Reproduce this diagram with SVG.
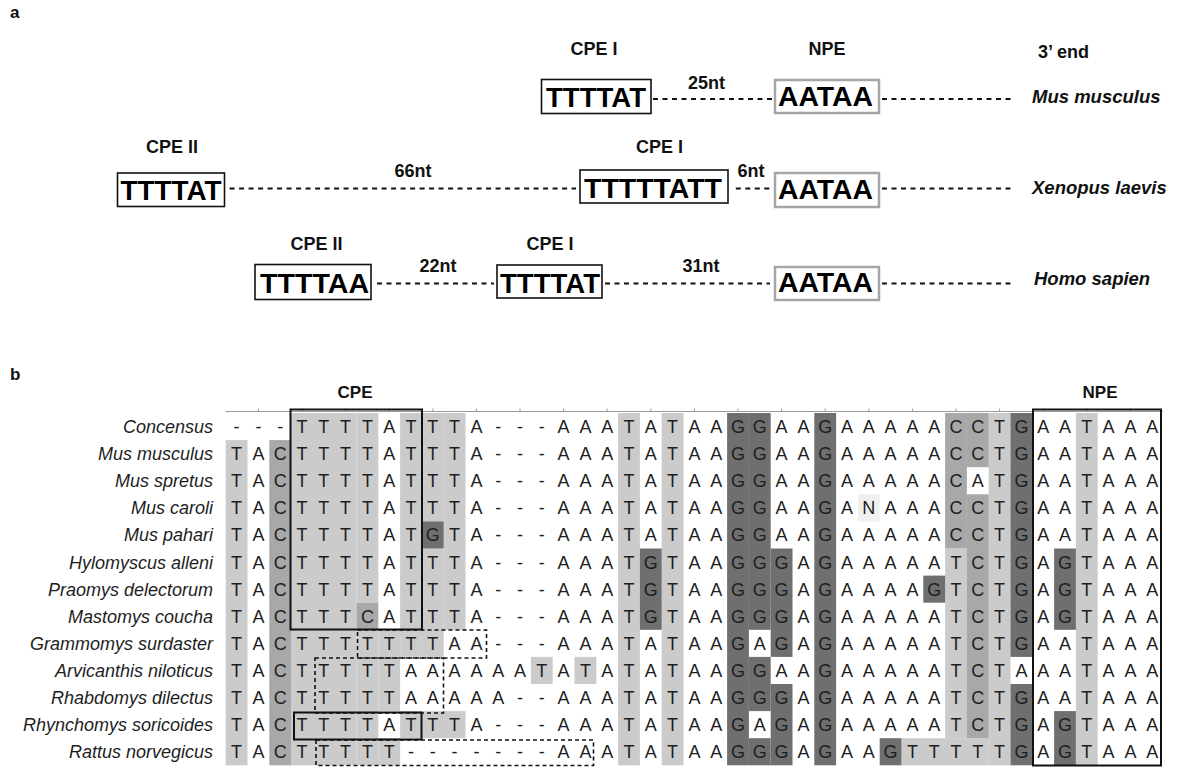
<svg xmlns="http://www.w3.org/2000/svg" width="1183" height="768" viewBox="0 0 1183 768">
<style>
.pl{font:bold 17px 'Liberation Sans',Arial,sans-serif;fill:#111}
.lbl{font:bold 18px 'Liberation Sans',Arial,sans-serif;fill:#111;text-anchor:middle}
.seq{font:bold 28px 'Liberation Sans',Arial,sans-serif;fill:#000;text-anchor:middle}
.sp{font:italic bold 18.5px 'Liberation Sans',Arial,sans-serif;fill:#111}
.box{fill:#fff;stroke:#111;stroke-width:1.6}
.npe{fill:#fff;stroke:#a6a6a6;stroke-width:2.5}
.dash{fill:none;stroke:#111;stroke-width:2.2;stroke-dasharray:5 4.5}
.al{font:18px 'Liberation Sans',Arial,sans-serif;fill:#1e1e1e;text-anchor:middle}
.name{font:italic 18px 'Liberation Sans',Arial,sans-serif;fill:#1e1e1e;text-anchor:end}
.t{fill:#cbcbcb}.c{fill:#a8a8a8}.g{fill:#6f6f6f}.n{fill:#f0f0f0}
.sbox{fill:none;stroke:#111;stroke-width:2}
.dbox{fill:none;stroke:#111;stroke-width:1.6;stroke-dasharray:4 3}
</style>
<rect width="1183" height="768" fill="#fff"/>

<!-- Panel a -->
<text class="pl" x="10" y="18">a</text>
<g id="a-headers">
<text class="lbl" x="594" y="55">CPE I</text>
<text class="lbl" x="827" y="55">NPE</text>
<text class="lbl" x="1038" y="58" style="text-anchor:start">3’ end</text>
</g>

<g id="a-connectors">
<path class="dash" d="M653 99H774M882 99H1011"/>
<path class="dash" d="M229.6 188.5H576M735.8 188.5H770M882 188.5H1011"/>
<path class="dash" d="M377 283.5H494M605 283.5H770M882 283.5H1011"/>
<text class="lbl" x="706.5" y="89">25nt</text>
<text class="lbl" x="413" y="176.5">66nt</text>
<text class="lbl" x="751" y="176.5">6nt</text>
<text class="lbl" x="438" y="272">22nt</text>
<text class="lbl" x="701" y="272">31nt</text>
</g>

<g id="mus-cpe1">
<rect class="box" x="541.5" y="79.5" width="109.5" height="34"/>
<text class="seq" x="596" y="107" textLength="100" lengthAdjust="spacingAndGlyphs">TTTTAT</text>
</g>
<g id="mus-npe">
<rect class="npe" x="775" y="80" width="104" height="33"/>
<text class="seq" x="825.5" y="106" textLength="95" lengthAdjust="spacingAndGlyphs">AATAA</text>
</g>
<text class="sp" x="1032" y="103">Mus musculus</text>

<g id="xen-cpe2">
<text class="lbl" x="172" y="153">CPE II</text>
<rect class="box" x="117.5" y="173" width="107" height="33.5"/>
<text class="seq" x="171" y="199.5" textLength="101" lengthAdjust="spacingAndGlyphs">TTTTAT</text>
</g>
<g id="xen-cpe1">
<text class="lbl" x="659.5" y="153">CPE I</text>
<rect class="box" x="580" y="170" width="148" height="33"/>
<text class="seq" x="653" y="197.5" textLength="138" lengthAdjust="spacingAndGlyphs">TTTTTATT</text>
</g>
<g id="xen-npe">
<rect class="npe" x="775" y="173" width="104" height="34"/>
<text class="seq" x="825.5" y="199" textLength="95" lengthAdjust="spacingAndGlyphs">AATAA</text>
</g>
<text class="sp" x="1032" y="194">Xenopus laevis</text>

<g id="homo-cpe2">
<text class="lbl" x="316.5" y="250">CPE II</text>
<rect class="box" x="255" y="264.5" width="116" height="35"/>
<text class="seq" x="314.6" y="293" textLength="109" lengthAdjust="spacingAndGlyphs">TTTTAA</text>
</g>
<g id="homo-cpe1">
<text class="lbl" x="550" y="250">CPE I</text>
<rect class="box" x="497" y="265" width="105" height="33"/>
<text class="seq" x="550" y="293" textLength="100" lengthAdjust="spacingAndGlyphs">TTTTAT</text>
</g>
<g id="homo-npe">
<rect class="npe" x="775" y="267" width="104" height="33"/>
<text class="seq" x="825.5" y="292" textLength="95" lengthAdjust="spacingAndGlyphs">AATAA</text>
</g>
<text class="sp" x="1034" y="285">Homo sapien</text>

<!-- Panel b -->
<text class="pl" x="10" y="380">b</text>
<text class="lbl" x="355" y="398" style="font-size:17px">CPE</text>
<text class="lbl" x="1100" y="398" style="font-size:17px">NPE</text>

<g id="shading">
<rect class="t" x="225.7" y="440.1" width="21.8" height="325.2"/>
<rect class="t" x="291.1" y="413" width="65.4" height="352.3"/>
<rect class="t" x="356.5" y="413" width="21.8" height="189.7"/>
<rect class="t" x="356.5" y="629.8" width="21.8" height="135.5"/>
<rect class="t" x="378.3" y="629.8" width="21.8" height="81.3"/>
<rect class="t" x="378.3" y="738.2" width="21.8" height="27.1"/>
<rect class="t" x="400.1" y="413" width="21.8" height="243.9"/>
<rect class="t" x="400.1" y="711.1" width="21.8" height="27.1"/>
<rect class="t" x="421.9" y="413" width="21.8" height="108.4"/>
<rect class="t" x="421.9" y="548.5" width="21.8" height="108.4"/>
<rect class="t" x="421.9" y="711.1" width="43.6" height="27.1"/>
<rect class="t" x="443.7" y="413" width="21.8" height="216.8"/>
<rect class="t" x="530.9" y="656.9" width="21.8" height="27.1"/>
<rect class="t" x="574.5" y="656.9" width="21.8" height="27.1"/>
<rect class="t" x="618.1" y="413" width="21.8" height="352.3"/>
<rect class="t" x="661.7" y="413" width="21.8" height="352.3"/>
<rect class="t" x="901.5" y="738.2" width="87.2" height="27.1"/>
<rect class="t" x="945.1" y="548.5" width="21.8" height="189.7"/>
<rect class="t" x="988.7" y="413" width="21.8" height="352.3"/>
<rect class="t" x="1075.9" y="413" width="21.8" height="352.3"/>
<rect class="c" x="269.3" y="440.1" width="21.8" height="325.2"/>
<rect class="c" x="356.5" y="602.7" width="21.8" height="27.1"/>
<rect class="c" x="945.1" y="413" width="21.8" height="135.5"/>
<rect class="c" x="966.9" y="413" width="21.8" height="54.2"/>
<rect class="c" x="966.9" y="494.3" width="21.8" height="243.9"/>
<rect class="g" x="421.9" y="521.4" width="21.8" height="27.1"/>
<rect class="g" x="639.9" y="548.5" width="21.8" height="81.3"/>
<rect class="g" x="727.1" y="413" width="21.8" height="352.3"/>
<rect class="g" x="748.9" y="413" width="21.8" height="216.8"/>
<rect class="g" x="748.9" y="656.9" width="21.8" height="54.2"/>
<rect class="g" x="748.9" y="738.2" width="21.8" height="27.1"/>
<rect class="g" x="770.7" y="548.5" width="21.8" height="108.4"/>
<rect class="g" x="770.7" y="684" width="21.8" height="81.3"/>
<rect class="g" x="814.3" y="413" width="21.8" height="352.3"/>
<rect class="g" x="879.7" y="738.2" width="21.8" height="27.1"/>
<rect class="g" x="923.3" y="575.6" width="21.8" height="27.1"/>
<rect class="g" x="1010.5" y="413" width="21.8" height="243.9"/>
<rect class="g" x="1010.5" y="684" width="21.8" height="81.3"/>
<rect class="g" x="1054.1" y="548.5" width="21.8" height="81.3"/>
<rect class="g" x="1054.1" y="711.1" width="21.8" height="54.2"/>
<rect class="n" x="857.9" y="494.3" width="21.8" height="27.1"/>
</g>

<g id="ruler" stroke="#9a9a9a" stroke-width="1" fill="none">
<path d="M225.7 411.5H1163"/>
<path d="M258.4 408.5v3M302 408.5v3M345.6 408.5v3M389.2 408.5v3M432.8 408.5v3M476.4 408.5v3M520 408.5v3M563.6 408.5v3M607.2 408.5v3M650.8 408.5v3M694.4 408.5v3M738 408.5v3M781.6 408.5v3M825.2 408.5v3M868.8 408.5v3M912.4 408.5v3M956 408.5v3M999.6 408.5v3M1043.2 408.5v3M1086.8 408.5v3M1130.4 408.5v3"/>
</g>

<g id="names">
<text class="name" x="213" y="433">Concensus</text>
<text class="name" x="213" y="460.1">Mus musculus</text>
<text class="name" x="213" y="487.2">Mus spretus</text>
<text class="name" x="213" y="514.3">Mus caroli</text>
<text class="name" x="213" y="541.4">Mus pahari</text>
<text class="name" x="213" y="568.5">Hylomyscus alleni</text>
<text class="name" x="213" y="595.6">Praomys delectorum</text>
<text class="name" x="213" y="622.7">Mastomys coucha</text>
<text class="name" x="213" y="649.8">Grammomys surdaster</text>
<text class="name" x="213" y="676.9">Arvicanthis niloticus</text>
<text class="name" x="213" y="704">Rhabdomys dilectus</text>
<text class="name" x="213" y="731.1">Rhynchomys soricoides</text>
<text class="name" x="213" y="758.2">Rattus norvegicus</text>
</g>

<g id="alignment">
<text class="al" y="433" x="236.6 258.4 280.2 302 323.8 345.6 367.4 389.2 411 432.8 454.6 476.4 498.2 520 541.8 563.6 585.4 607.2 629 650.8 672.6 694.4 716.2 738 759.8 781.6 803.4 825.2 847 868.8 890.6 912.4 934.2 956 977.8 999.6 1021.4 1043.2 1065 1086.8 1108.6 1130.4 1152.2">---TTTTATTTA---AAATATAAGGAAGAAAAACCTGAATAAA</text>
<text class="al" y="460.1" x="236.6 258.4 280.2 302 323.8 345.6 367.4 389.2 411 432.8 454.6 476.4 498.2 520 541.8 563.6 585.4 607.2 629 650.8 672.6 694.4 716.2 738 759.8 781.6 803.4 825.2 847 868.8 890.6 912.4 934.2 956 977.8 999.6 1021.4 1043.2 1065 1086.8 1108.6 1130.4 1152.2">TACTTTTATTTA---AAATATAAGGAAGAAAAACCTGAATAAA</text>
<text class="al" y="487.2" x="236.6 258.4 280.2 302 323.8 345.6 367.4 389.2 411 432.8 454.6 476.4 498.2 520 541.8 563.6 585.4 607.2 629 650.8 672.6 694.4 716.2 738 759.8 781.6 803.4 825.2 847 868.8 890.6 912.4 934.2 956 977.8 999.6 1021.4 1043.2 1065 1086.8 1108.6 1130.4 1152.2">TACTTTTATTTA---AAATATAAGGAAGAAAAACATGAATAAA</text>
<text class="al" y="514.3" x="236.6 258.4 280.2 302 323.8 345.6 367.4 389.2 411 432.8 454.6 476.4 498.2 520 541.8 563.6 585.4 607.2 629 650.8 672.6 694.4 716.2 738 759.8 781.6 803.4 825.2 847 868.8 890.6 912.4 934.2 956 977.8 999.6 1021.4 1043.2 1065 1086.8 1108.6 1130.4 1152.2">TACTTTTATTTA---AAATATAAGGAAGANAAACCTGAATAAA</text>
<text class="al" y="541.4" x="236.6 258.4 280.2 302 323.8 345.6 367.4 389.2 411 432.8 454.6 476.4 498.2 520 541.8 563.6 585.4 607.2 629 650.8 672.6 694.4 716.2 738 759.8 781.6 803.4 825.2 847 868.8 890.6 912.4 934.2 956 977.8 999.6 1021.4 1043.2 1065 1086.8 1108.6 1130.4 1152.2">TACTTTTATGTA---AAATATAAGGAAGAAAAACCTGAATAAA</text>
<text class="al" y="568.5" x="236.6 258.4 280.2 302 323.8 345.6 367.4 389.2 411 432.8 454.6 476.4 498.2 520 541.8 563.6 585.4 607.2 629 650.8 672.6 694.4 716.2 738 759.8 781.6 803.4 825.2 847 868.8 890.6 912.4 934.2 956 977.8 999.6 1021.4 1043.2 1065 1086.8 1108.6 1130.4 1152.2">TACTTTTATTTA---AAATGTAAGGGAGAAAAATCTGAGTAAA</text>
<text class="al" y="595.6" x="236.6 258.4 280.2 302 323.8 345.6 367.4 389.2 411 432.8 454.6 476.4 498.2 520 541.8 563.6 585.4 607.2 629 650.8 672.6 694.4 716.2 738 759.8 781.6 803.4 825.2 847 868.8 890.6 912.4 934.2 956 977.8 999.6 1021.4 1043.2 1065 1086.8 1108.6 1130.4 1152.2">TACTTTTATTTA---AAATGTAAGGGAGAAAAGTCTGAGTAAA</text>
<text class="al" y="622.7" x="236.6 258.4 280.2 302 323.8 345.6 367.4 389.2 411 432.8 454.6 476.4 498.2 520 541.8 563.6 585.4 607.2 629 650.8 672.6 694.4 716.2 738 759.8 781.6 803.4 825.2 847 868.8 890.6 912.4 934.2 956 977.8 999.6 1021.4 1043.2 1065 1086.8 1108.6 1130.4 1152.2">TACTTTCATTTA---AAATGTAAGGGAGAAAAATCTGAGTAAA</text>
<text class="al" y="649.8" x="236.6 258.4 280.2 302 323.8 345.6 367.4 389.2 411 432.8 454.6 476.4 498.2 520 541.8 563.6 585.4 607.2 629 650.8 672.6 694.4 716.2 738 759.8 781.6 803.4 825.2 847 868.8 890.6 912.4 934.2 956 977.8 999.6 1021.4 1043.2 1065 1086.8 1108.6 1130.4 1152.2">TACTTTTTTTAA---AAATATAAGAGAGAAAAATCTGAATAAA</text>
<text class="al" y="676.9" x="236.6 258.4 280.2 302 323.8 345.6 367.4 389.2 411 432.8 454.6 476.4 498.2 520 541.8 563.6 585.4 607.2 629 650.8 672.6 694.4 716.2 738 759.8 781.6 803.4 825.2 847 868.8 890.6 912.4 934.2 956 977.8 999.6 1021.4 1043.2 1065 1086.8 1108.6 1130.4 1152.2">TACTTTTTAAAAAATATATATAAGGAAGAAAAATCTAAATAAA</text>
<text class="al" y="704" x="236.6 258.4 280.2 302 323.8 345.6 367.4 389.2 411 432.8 454.6 476.4 498.2 520 541.8 563.6 585.4 607.2 629 650.8 672.6 694.4 716.2 738 759.8 781.6 803.4 825.2 847 868.8 890.6 912.4 934.2 956 977.8 999.6 1021.4 1043.2 1065 1086.8 1108.6 1130.4 1152.2">TACTTTTTAAAAA--AAATATAAGGGAGAAAAATCTGAATAAA</text>
<text class="al" y="731.1" x="236.6 258.4 280.2 302 323.8 345.6 367.4 389.2 411 432.8 454.6 476.4 498.2 520 541.8 563.6 585.4 607.2 629 650.8 672.6 694.4 716.2 738 759.8 781.6 803.4 825.2 847 868.8 890.6 912.4 934.2 956 977.8 999.6 1021.4 1043.2 1065 1086.8 1108.6 1130.4 1152.2">TACTTTTATTTA---AAATATAAGAGAGAAAAATCTGAGTAAA</text>
<text class="al" y="758.2" x="236.6 258.4 280.2 302 323.8 345.6 367.4 389.2 411 432.8 454.6 476.4 498.2 520 541.8 563.6 585.4 607.2 629 650.8 672.6 694.4 716.2 738 759.8 781.6 803.4 825.2 847 868.8 890.6 912.4 934.2 956 977.8 999.6 1021.4 1043.2 1065 1086.8 1108.6 1130.4 1152.2">TACTTTTT-------AAATATAAGGGAGAAGTTTTTGAGTAAA</text>
</g>

<g id="motif-boxes">
<rect id="cpe-box" class="sbox" x="290.5" y="409.5" width="131.5" height="220"/>
<rect id="npe-box" class="sbox" x="1033" y="409.5" width="128" height="356"/>
<rect id="rhyn-box" class="sbox" x="294" y="712.5" width="127.5" height="27"/>
<rect id="gram-box" class="dbox" x="357.5" y="630" width="129" height="28"/>
<rect id="arv-box" class="dbox" x="315" y="658" width="128.5" height="55"/>
<rect id="rat-box" class="dbox" x="316" y="740" width="277.5" height="25.5"/>
</g>
</svg>
